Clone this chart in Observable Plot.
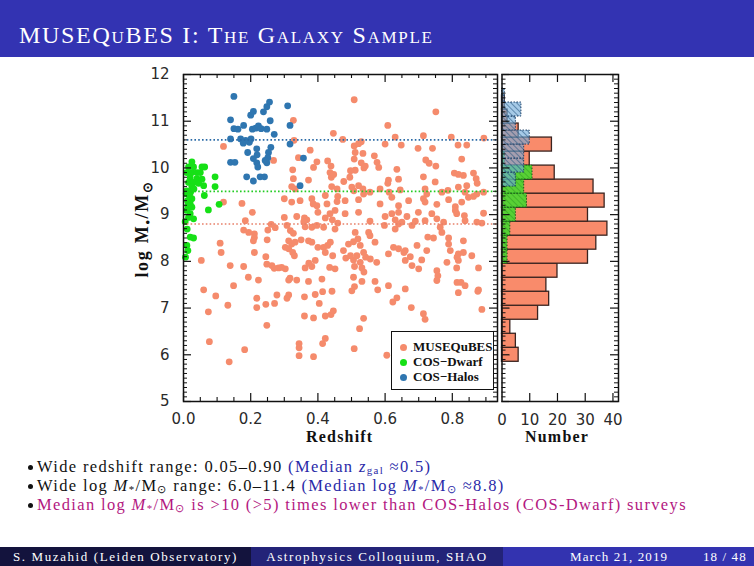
<!DOCTYPE html>
<html><head><meta charset="utf-8">
<script src="https://cdn.jsdelivr.net/npm/d3@7"></script>
<script src="https://cdn.jsdelivr.net/npm/@observablehq/plot@0.6"></script>
<style>
html,body{margin:0;padding:0;background:#fff;}
#page{position:relative;width:754px;height:566px;overflow:hidden;font-family:"Liberation Serif",serif;color:#111;}
#titlebar{position:absolute;left:0;top:0;width:754px;height:57px;background:#3333b2;}
#titlebar span{position:absolute;left:19px;top:21px;font-size:24px;line-height:28px;color:#fff;font-variant:small-caps;letter-spacing:1.7px;white-space:nowrap;}
#scatter,#hist{position:absolute;top:60px;}
#scatter{left:100px;} #hist{left:490px;}
#ylabel{position:absolute;left:62px;top:218px;width:160px;height:22px;line-height:22px;text-align:center;transform:rotate(-90deg);font-weight:bold;font-size:18px;letter-spacing:1.7px;white-space:nowrap;}
#ylabel sub{font-size:0.7em;vertical-align:-0.3em;line-height:0;}
.axt{position:absolute;top:428px;font-weight:bold;font-size:16px;letter-spacing:1.2px;white-space:nowrap;}
#legend{position:absolute;left:391px;top:331px;width:101px;height:57px;border:1.5px solid #111;background:#fff;}
.lrow{position:absolute;left:0;height:14px;line-height:14px;font-weight:bold;font-size:13px;white-space:nowrap;}
.lrow i{position:absolute;left:8px;top:3.5px;width:7px;height:7px;border-radius:50%;}
.lrow span{position:absolute;left:21px;top:0;}
.bl{position:absolute;left:37px;font-size:16.5px;letter-spacing:1.35px;line-height:17px;white-space:nowrap;}
.bl::before{content:"";position:absolute;left:-9px;top:7px;width:5px;height:5px;border-radius:50%;background:#111;}
.bl sub{font-size:0.66em;vertical-align:-0.18em;line-height:0;}
.blue{color:#2a2aa8;} .mag{color:#b3177f;}
#footer div{position:absolute;top:547px;height:19px;line-height:19px;color:#fff;font-size:13px;letter-spacing:1.6px;white-space:nowrap;}
</style></head><body>
<div id="page">
  <div id="titlebar"><span>MUSEQuBES I: The Galaxy Sample</span></div>
  <div id="scatter"></div>
  <div id="hist"></div>
  <div id="ylabel">log M<sub>•</sub>/M<sub>⊙</sub></div>
  <div class="axt" id="xt1" style="left:306px;">Redshift</div>
  <div class="axt" id="xt2" style="left:525px;">Number</div>
  <div id="legend"></div>
  <div class="bl" style="top:458px;">Wide redshift range: 0.05–0.90 <span class="blue">(Median <i>z</i><sub>gal</sub> ≈0.5)</span></div>
  <div class="bl" style="top:477px;">Wide log <i>M</i><sub>*</sub>/M<sub>⊙</sub> range: 6.0–11.4 <span class="blue">(Median log <i>M</i><sub>*</sub>/M<sub>⊙</sub> ≈8.8)</span></div>
  <div class="bl mag" style="top:496px;">Median log <i>M</i><sub>*</sub>/M<sub>⊙</sub> is &gt;10 (&gt;5) times lower than COS-Halos (COS-Dwarf) surveys</div>
  <div id="footer">
    <div style="left:0;width:251px;background:#13133d;text-align:center;">S. Muzahid (Leiden Observatory)</div>
    <div style="left:251px;width:252px;background:#232378;text-align:center;">Astrophysics Colloquium, SHAO</div>
    <div style="left:503px;width:251px;background:#3333b0;letter-spacing:1.1px;"><span style="position:absolute;left:67px;">March 21, 2019</span><span style="position:absolute;left:200px;">18 / 48</span></div>
  </div>
</div>
<svg width="0" height="0" style="position:absolute;left:0;top:0">
  <defs>
    <pattern id="hatchBlue" patternUnits="userSpaceOnUse" width="4" height="4" patternTransform="rotate(-45)">
      <rect width="4" height="4" fill="#6fa9d8" fill-opacity="0.62"></rect>
      <line x1="0" y1="0" x2="0" y2="4" stroke="#24537f" stroke-width="1.1"></line>
    </pattern>
    <pattern id="hatchGreen" patternUnits="userSpaceOnUse" width="4" height="4" patternTransform="rotate(-45)">
      <rect width="4" height="4" fill="#3cdc2c" fill-opacity="0.85"></rect>
      <line x1="0" y1="0" x2="0" y2="4" stroke="#2a9a20" stroke-width="1"></line>
    </pattern>
  </defs>
</svg>
<script>
// ---------------- data ----------------
const seriesNames = ["MUSEQuBES", "COS\u2212Dwarf", "COS\u2212Halos"];
const seriesColors = ["#f58b6c", "#16e016", "#2f76b0"];
const medianLineColors = ["#e8806a", "#22cc22", "#2a6aa6"];
const medianLogM = [8.8, 9.5, 10.6]; // MUSEQuBES, COS-Dwarf, COS-Halos

// [redshift, log M*/Msun]
const musequbes = [
[0.508,11.46],[0.751,11.20],[0.608,10.91],[0.327,11.02],[0.446,10.74],[0.474,10.61],[0.329,10.59],[0.630,10.66],[0.714,10.69],[0.797,10.66],[0.894,10.64],[0.119,10.46],[0.648,10.49],[0.600,10.51],[0.698,10.42],[0.741,10.42],[0.817,10.49],[0.843,10.49],[0.508,10.47],[0.521,10.52],[0.529,10.56],[0.511,10.33],[0.534,10.31],[0.377,10.38],[0.342,10.22],[0.268,10.16],[0.397,10.13],[0.387,10.01],[0.429,10.15],[0.439,10.04],[0.436,9.90],[0.508,10.19],[0.511,9.95],[0.529,10.11],[0.541,10.04],[0.568,10.26],[0.721,10.17],[0.731,10.10],[0.751,10.04],[0.828,10.19],[0.635,9.97],[0.640,9.76],[0.610,9.74],[0.325,9.96],[0.327,9.77],[0.372,9.74],[0.714,9.81],[0.749,9.70],[0.806,9.89],[0.818,9.86],[0.833,9.84],[0.863,9.89],[0.871,9.77],[0.576,10.12],[0.581,10.01],[0.477,9.71],[0.495,9.80],[0.497,9.94],[0.440,9.80],[0.447,9.86],[0.874,9.67],[0.537,10.00],
[0.322,9.60],[0.332,9.55],[0.441,9.60],[0.501,9.59],[0.521,9.62],[0.534,9.55],[0.555,9.48],[0.585,9.55],[0.608,9.67],[0.612,9.48],[0.645,9.53],[0.719,9.55],[0.724,9.44],[0.769,9.48],[0.787,9.52],[0.818,9.59],[0.843,9.62],[0.838,9.48],[0.873,9.44],[0.893,9.48],[0.507,9.51],[0.457,9.55],
[0.119,9.27],[0.174,9.24],[0.300,9.34],[0.322,9.27],[0.347,9.30],[0.382,9.34],[0.397,9.19],[0.422,9.41],[0.427,9.23],[0.459,9.39],[0.481,9.30],[0.521,9.32],[0.536,9.44],[0.585,9.23],[0.620,9.37],[0.640,9.19],[0.670,9.30],[0.714,9.34],[0.719,9.27],[0.754,9.22],[0.789,9.32],[0.809,9.17],[0.828,9.27],[0.848,9.37],[0.863,9.39],[0.386,9.23],[0.457,9.28],
[0.205,9.05],[0.184,8.87],[0.300,8.94],[0.337,8.96],[0.360,8.93],[0.367,8.89],[0.400,9.05],[0.422,8.93],[0.436,9.02],[0.443,8.89],[0.451,9.09],[0.481,9.02],[0.459,8.82],[0.521,9.05],[0.555,8.86],[0.600,8.96],[0.620,9.02],[0.630,8.89],[0.640,9.05],[0.650,8.84],[0.665,8.96],[0.690,8.86],[0.699,9.05],[0.719,8.87],[0.739,9.02],[0.754,8.91],[0.774,8.84],[0.809,9.09],[0.813,9.02],[0.836,8.98],[0.838,8.87],[0.873,8.84],[0.893,9.03],[0.888,8.82],[0.358,8.85],
[0.179,8.67],[0.211,8.59],[0.251,8.67],[0.261,8.79],[0.273,8.72],[0.308,8.77],[0.318,8.66],[0.327,8.60],[0.362,8.74],[0.382,8.73],[0.397,8.77],[0.417,8.73],[0.451,8.69],[0.511,8.62],[0.551,8.62],[0.555,8.55],[0.598,8.77],[0.630,8.69],[0.640,8.80],[0.680,8.77],[0.727,8.52],[0.744,8.50],[0.764,8.73],[0.769,8.62],[0.789,8.50],[0.833,8.44],[0.194,8.62],[0.211,8.51],[0.249,8.46],
[0.109,8.39],[0.208,8.44],[0.313,8.44],[0.322,8.37],[0.332,8.41],[0.303,8.30],[0.313,8.27],[0.372,8.44],[0.382,8.41],[0.400,8.30],[0.417,8.30],[0.429,8.34],[0.476,8.23],[0.491,8.37],[0.506,8.42],[0.519,8.48],[0.526,8.34],[0.536,8.19],[0.570,8.41],[0.610,8.16],[0.625,8.30],[0.640,8.27],[0.660,8.23],[0.695,8.34],[0.724,8.23],[0.789,8.37],[0.794,8.23],[0.818,8.16],[0.833,8.19],[0.858,8.12],[0.325,8.19],[0.350,8.46],[0.437,8.41],
[0.053,8.02],[0.112,8.19],[0.139,7.91],[0.179,7.89],[0.211,8.19],[0.245,8.10],[0.248,7.94],[0.263,7.91],[0.283,7.86],[0.303,7.84],[0.330,8.12],[0.362,7.86],[0.382,7.89],[0.392,8.02],[0.422,8.19],[0.444,8.12],[0.451,7.84],[0.506,8.03],[0.516,8.12],[0.526,7.98],[0.531,7.86],[0.575,7.98],[0.660,8.02],[0.675,8.10],[0.700,7.84],[0.709,8.03],[0.754,7.80],[0.784,7.98],[0.818,8.02],[0.813,7.86],[0.878,7.86],
[0.270,7.85],[0.292,7.87],[0.435,7.87],[0.483,8.07],[0.497,8.12],[0.509,7.89],[0.509,7.46],[0.537,7.77],[0.556,8.05],[0.542,8.09],[0.656,8.19],[0.680,7.91],[0.757,7.69],[0.814,8.09],[0.814,7.55],[0.317,7.64],[0.373,7.96],[0.578,7.39],
[0.149,7.48],[0.193,7.66],[0.223,7.60],[0.313,7.60],[0.337,7.60],[0.372,7.57],[0.412,7.62],[0.506,7.66],[0.531,7.57],[0.570,7.57],[0.610,7.48],[0.660,7.41],[0.754,7.59],[0.826,7.55],[0.838,7.48],[0.878,7.39],[0.060,7.39],[0.501,7.37],
[0.096,7.26],[0.132,7.06],[0.074,6.92],[0.218,7.21],[0.218,7.01],[0.245,7.08],[0.278,7.28],[0.271,7.10],[0.308,7.21],[0.313,7.28],[0.360,7.24],[0.392,7.29],[0.414,7.35],[0.442,7.36],[0.404,7.10],[0.360,6.83],[0.387,6.79],[0.422,6.83],[0.439,6.86],[0.446,6.94],[0.623,7.13],[0.635,7.22],[0.678,7.01],[0.714,6.88],[0.719,6.76],[0.818,7.33],[0.876,7.36],[0.888,6.97],[0.248,6.63],[0.536,6.78],[0.524,6.56],[0.077,6.28],[0.182,6.11],[0.136,5.85],[0.344,6.24],[0.344,6.15],[0.344,5.98],[0.387,5.96],[0.414,6.24],[0.422,6.35],[0.508,6.13],[0.605,5.99]
];

const cosDwarf = [
[0.025,10.13],[0.015,10.02],[0.030,10.02],[0.055,10.02],[0.063,10.02],[0.010,9.90],[0.025,9.90],[0.040,9.90],[0.050,9.90],[0.020,9.79],[0.040,9.77],[0.055,9.76],[0.094,9.81],[0.015,9.69],[0.030,9.69],[0.045,9.67],[0.060,9.62],[0.094,9.60],[0.025,9.60],[0.010,9.51],[0.021,9.48],[0.031,9.55],[0.062,9.41],[0.012,9.30],[0.025,9.34],[0.020,9.23],[0.106,9.22],[0.074,9.10],[0.013,9.19],[0.025,9.16],[0.010,9.09],[0.020,9.02],[0.030,8.91],[0.015,8.94],[0.011,8.69],[0.020,8.52],[0.030,8.50],[0.010,8.34],[0.013,8.23],[0.006,8.09],[0.008,9.45],[0.018,9.40],[0.005,8.85]
];

const cosHalos = [
[0.150,11.53],[0.140,11.03],[0.150,10.84],[0.162,10.83],[0.179,10.91],[0.200,11.13],[0.208,11.21],[0.238,11.20],[0.248,11.31],[0.256,11.41],[0.205,10.83],[0.215,10.85],[0.223,10.90],[0.231,10.84],[0.248,10.83],[0.258,11.01],[0.270,10.72],[0.310,11.33],[0.317,10.91],
[0.140,10.62],[0.170,10.62],[0.185,10.59],[0.178,10.53],[0.196,10.55],[0.201,10.62],[0.218,10.41],[0.191,10.33],[0.140,10.12],[0.153,10.12],[0.208,10.20],[0.218,10.11],[0.221,10.02],[0.253,10.33],[0.251,10.22],[0.248,10.11],[0.260,10.44],[0.188,9.81],[0.228,9.81],[0.241,9.81],[0.208,9.72],[0.357,10.21],[0.317,10.51],[0.347,9.62],[0.219,10.28],[0.243,10.16]
];

// histograms (bin lower edge in log M*, count), bin width 0.3 dex
const histBinWidth = 0.3;
const museqBinLow = [5.85,6.15,6.45,6.75,7.05,7.35,7.65,7.95,8.25,8.55,8.85,9.15,9.45,9.75,10.05,10.35,10.65,10.95,11.25];
const museqCounts = [6,5,3,13,17,16,20,31,34,38,31,37,33,19,10,18,6,2,1];
const dwarfBinLow = [7.95,8.25,8.55,8.85,9.15,9.45,9.75,10.05];
const dwarfCounts = [2,2,3,5,9,8,11,1];
const halosBinLow = [9.6,9.9,10.2,10.5,10.8,11.1,11.4];
const halosCounts = [5,8,8,10,5,7,1];

// axes
const xTickValues = [0, 0.2, 0.4, 0.6, 0.8];
const xTickLabels = ["0.0", "0.2", "0.4", "0.6", "0.8"];
const yTickValues = [5, 6, 7, 8, 9, 10, 11, 12];
const yTickLabels = ["5", "6", "7", "8", "9", "10", "11", "12"];
const nTickValues = [0, 10, 20, 30, 40];
const nTickLabels = ["0", "10", "20", "30", "40"];

// ---------------- drawing ----------------
const ink = "#111";
const zMax = 0.9345, nMax = 42;
const yMinor = d3.range(50, 121).map(v => v / 10).filter(v => !yTickValues.includes(v));
const xMinor = d3.range(1, 19).map(v => v * 0.05).filter(v => Math.abs(v * 5 - Math.round(v * 5)) > 1e-6);
const rows = arr => arr.map(([z, m]) => ({z, m}));
const bars = (lows, counts) => lows.map((lo, i) => ({lo, hi: lo + histBinWidth, n: counts[i]}));

const common = {
  height: 390, marginTop: 14, marginBottom: 49,
  style: {fontFamily: "DejaVu Sans, sans-serif", fontSize: "15px", color: "#2a2a2a", background: "transparent", overflow: "visible"}
};

const sPx = zMax / 314, nPx = nMax / 116.5, yPx = 7 / 327;

const scatter = Plot.plot({
  ...common, width: 410, marginLeft: 83, marginRight: 13,
  x: {domain: [0, zMax], axis: null},
  y: {domain: [5, 12], axis: null},
  marks: [
    Plot.dot(rows(musequbes), {x: "z", y: "m", r: 3.4, fill: seriesColors[0]}),
    Plot.dot(rows(cosDwarf), {x: "z", y: "m", r: 3.4, fill: seriesColors[1]}),
    Plot.dot(rows(cosHalos), {x: "z", y: "m", r: 3.4, fill: seriesColors[2]}),
    Plot.ruleY(medianLogM, {y: d => d, stroke: (d, i) => medianLineColors[i], strokeWidth: 1.7, strokeDasharray: "1.6,2.2"}),
    Plot.ruleX(xTickValues, {x: d => d, y1: () => 5, y2: () => 5 + 8 * yPx, stroke: ink, strokeWidth: 1.2}),
    Plot.ruleX(xTickValues, {x: d => d, y1: () => 12, y2: () => 12 - 8 * yPx, stroke: ink, strokeWidth: 1.2}),
    Plot.ruleX(xMinor, {x: d => d, y1: () => 5, y2: () => 5 + 4 * yPx, stroke: ink, strokeWidth: 1.1}),
    Plot.ruleX(xMinor, {x: d => d, y1: () => 12, y2: () => 12 - 4 * yPx, stroke: ink, strokeWidth: 1.1}),
    Plot.ruleY(yTickValues, {y: d => d, x1: () => 0, x2: () => 8 * sPx, stroke: ink, strokeWidth: 1.2}),
    Plot.ruleY(yTickValues, {y: d => d, x1: () => zMax, x2: () => zMax - 8 * sPx, stroke: ink, strokeWidth: 1.2}),
    Plot.ruleY(yMinor, {y: d => d, x1: () => 0, x2: () => 4 * sPx, stroke: ink, strokeWidth: 1}),
    Plot.ruleY(yMinor, {y: d => d, x1: () => zMax, x2: () => zMax - 4 * sPx, stroke: ink, strokeWidth: 1}),
    Plot.frame({stroke: ink, strokeWidth: 1.5}),
    Plot.text(xTickValues, {x: d => d, text: (d, i) => xTickLabels[i], frameAnchor: "bottom", dy: 18, lineAnchor: "middle", fill: "#2a2a2a"}),
    Plot.text(yTickValues, {y: d => d, text: (d, i) => yTickLabels[i], frameAnchor: "left", dx: -14, textAnchor: "end", lineAnchor: "middle", fill: "#2a2a2a"})
  ]
});
document.getElementById("scatter").append(scatter);

const hist = Plot.plot({
  ...common, width: 150, marginLeft: 11.5, marginRight: 22,
  x: {domain: [0, nMax], axis: null},
  y: {domain: [5, 12], axis: null},
  marks: [
    Plot.rectX(bars(museqBinLow, museqCounts), {x1: () => 0, x2: "n", y1: "lo", y2: "hi", fill: "#f98b6b", stroke: "#3a2420", strokeWidth: 1.3}),
    Plot.rectX(bars(dwarfBinLow, dwarfCounts), {x1: () => 0, x2: "n", y1: "lo", y2: "hi", fill: "url(#hatchGreen)", stroke: "#1f5a1a", strokeWidth: 1, strokeDasharray: "1.5,1.5"}),
    Plot.rectX(bars(halosBinLow, halosCounts), {x1: () => 0, x2: "n", y1: "lo", y2: "hi", fill: "url(#hatchBlue)", stroke: "#1c3f66", strokeWidth: 1, strokeDasharray: "1.5,1.5"}),
    Plot.ruleX(nTickValues.slice(1), {x: d => d, y1: () => 5, y2: () => 5 + 8 * yPx, stroke: ink, strokeWidth: 1.2}),
    Plot.ruleX(nTickValues.slice(1), {x: d => d, y1: () => 12, y2: () => 12 - 8 * yPx, stroke: ink, strokeWidth: 1.2}),
    Plot.ruleY(yTickValues, {y: d => d, x1: () => 0, x2: () => 8 * nPx, stroke: ink, strokeWidth: 1.2}),
    Plot.ruleY(yTickValues, {y: d => d, x1: () => nMax, x2: () => nMax - 8 * nPx, stroke: ink, strokeWidth: 1.2}),
    Plot.ruleY(yMinor, {y: d => d, x1: () => 0, x2: () => 4 * nPx, stroke: ink, strokeWidth: 1}),
    Plot.ruleY(yMinor, {y: d => d, x1: () => nMax, x2: () => nMax - 4 * nPx, stroke: ink, strokeWidth: 1}),
    Plot.frame({stroke: ink, strokeWidth: 1.5}),
    Plot.text(nTickValues, {x: d => d, text: (d, i) => nTickLabels[i], frameAnchor: "bottom", dy: 19, lineAnchor: "middle", fill: "#2a2a2a"})
  ]
});
document.getElementById("hist").append(hist);

// legend
const legend = document.getElementById("legend");
seriesNames.forEach((name, i) => {
  const row = document.createElement("div");
  row.className = "lrow";
  row.style.top = (8 + i * 15) + "px";
  const dot = document.createElement("i");
  dot.style.background = seriesColors[i];
  const label = document.createElement("span");
  label.textContent = name;
  row.append(dot, label);
  legend.append(row);
});
</script>
</body></html>
